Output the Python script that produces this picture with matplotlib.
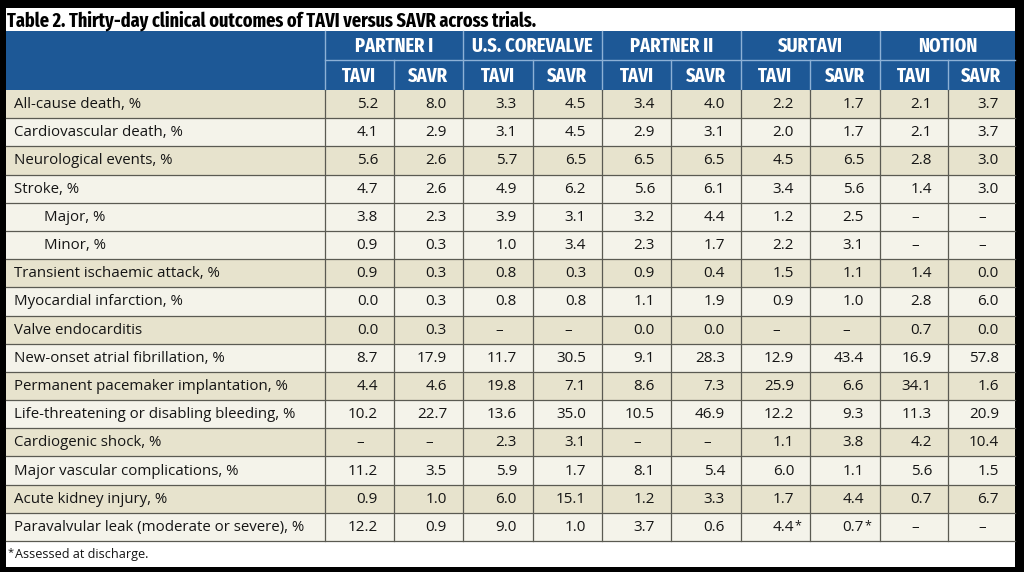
import matplotlib
matplotlib.use("Agg")
import matplotlib.pyplot as plt
from matplotlib.patches import Rectangle
from matplotlib import font_manager
from matplotlib.font_manager import FontProperties

# ---------------- data ----------------
title = "Table 2. Thirty-day clinical outcomes of TAVI versus SAVR across trials."
trials = ["PARTNER I", "U.S. COREVALVE", "PARTNER II", "SURTAVI", "NOTION"]
arms = ["TAVI", "SAVR"]
outcomes = [
    "All-cause death, %",
    "Cardiovascular death, %",
    "Neurological events, %",
    "Stroke, %",
    "Major, %",
    "Minor, %",
    "Transient ischaemic attack, %",
    "Myocardial infarction, %",
    "Valve endocarditis",
    "New-onset atrial fibrillation, %",
    "Permanent pacemaker implantation, %",
    "Life-threatening or disabling bleeding, %",
    "Cardiogenic shock, %",
    "Major vascular complications, %",
    "Acute kidney injury, %",
    "Paravalvular leak (moderate or severe), %",
]
indented = [False, False, False, False, True, True] + [False] * 10
# shading group: 1 = tan, 0 = light
shade = [1, 0, 1, 0, 0, 0, 1, 0, 1, 0, 1, 0, 1, 0, 1, 0]

N = None
partner1_tavi = [5.2, 4.1, 5.6, 4.7, 3.8, 0.9, 0.9, 0.0, 0.0, 8.7, 4.4, 10.2, N, 11.2, 0.9, 12.2]
partner1_savr = [8.0, 2.9, 2.6, 2.6, 2.3, 0.3, 0.3, 0.3, 0.3, 17.9, 4.6, 22.7, N, 3.5, 1.0, 0.9]
corevalve_tavi = [3.3, 3.1, 5.7, 4.9, 3.9, 1.0, 0.8, 0.8, N, 11.7, 19.8, 13.6, 2.3, 5.9, 6.0, 9.0]
corevalve_savr = [4.5, 4.5, 6.5, 6.2, 3.1, 3.4, 0.3, 0.8, N, 30.5, 7.1, 35.0, 3.1, 1.7, 15.1, 1.0]
partner2_tavi = [3.4, 2.9, 6.5, 5.6, 3.2, 2.3, 0.9, 1.1, 0.0, 9.1, 8.6, 10.5, N, 8.1, 1.2, 3.7]
partner2_savr = [4.0, 3.1, 6.5, 6.1, 4.4, 1.7, 0.4, 1.9, 0.0, 28.3, 7.3, 46.9, N, 5.4, 3.3, 0.6]
surtavi_tavi = [2.2, 2.0, 4.5, 3.4, 1.2, 2.2, 1.5, 0.9, N, 12.9, 25.9, 12.2, 1.1, 6.0, 1.7, 4.4]
surtavi_savr = [1.7, 1.7, 6.5, 5.6, 2.5, 3.1, 1.1, 1.0, N, 43.4, 6.6, 9.3, 3.8, 1.1, 4.4, 0.7]
notion_tavi = [2.1, 2.1, 2.8, 1.4, N, N, 1.4, 2.8, 0.7, 16.9, 34.1, 11.3, 4.2, 5.6, 0.7, N]
notion_savr = [3.7, 3.7, 3.0, 3.0, N, N, 0.0, 6.0, 0.0, 57.8, 1.6, 20.9, 10.4, 1.5, 6.7, N]
value_columns = [partner1_tavi, partner1_savr, corevalve_tavi, corevalve_savr,
                 partner2_tavi, partner2_savr, surtavi_tavi, surtavi_savr,
                 notion_tavi, notion_savr]
# (column index, row index) cells flagged "assessed at discharge"
starred = [(6, 15), (7, 15)]
footnote = "Assessed at discharge."

# ---------------- fonts ----------------
def cond_level(f):
    nm = f.name.lower().replace(" ", "").replace("-", "")
    st = str(f.stretch).lower().replace("-", "")
    fn = f.fname.lower().replace("-", "").replace("_", "")
    txt = nm + " " + st + " " + fn
    if "ultracondensed" in txt:
        return 4
    if "extracondensed" in txt:
        return 3
    if "semicondensed" in txt:
        return 1
    if "condensed" in txt or "narrow" in txt:
        return 2
    if isinstance(f.stretch, int) and f.stretch < 500:
        return 2
    return 0

def find_condensed_bold():
    pref = {3: 40, 2: 30, 4: 20, 1: 10}
    best = None
    for f in font_manager.fontManager.ttflist:
        lvl = cond_level(f)
        if lvl == 0:
            continue
        if "italic" in str(f.style).lower() or "oblique" in str(f.style).lower():
            continue
        w = f.weight if isinstance(f.weight, int) else (700 if "bold" in str(f.weight) else 400)
        if "italic" in f.fname.lower():
            continue
        score = pref[lvl] - abs(w - 700) / 10.0
        if best is None or score > best[0]:
            best = (score, f.fname)
    return best[1] if best else None

cond_file = find_condensed_bold()
if cond_file:
    HFONT = FontProperties(fname=cond_file)
else:
    HFONT = FontProperties(family="DejaVu Sans", weight="bold")

avail = {f.name for f in font_manager.fontManager.ttflist}
body_font = "Open Sans" if "Open Sans" in avail else "DejaVu Sans"

# ---------------- styling / layout ----------------
BLUE = "#1d5896"
TAN = "#e7e3cd"
LIGHT = "#f4f3ea"
HDR_LINE = "#8db1d6"
GRID = "#5a5a52"
TXT = "#151515"

W, H = 1024, 572
fig = plt.figure(figsize=(W / 100, H / 100), dpi=100, facecolor="black")
ax = fig.add_axes([0, 0, 1, 1])
ax.set_xlim(0, W)
ax.set_ylim(H, 0)
ax.axis("off")
ax.set_facecolor("black")
renderer = fig.canvas.get_renderer()

x_left, x_right = 6, 1015
label_edge = 325
col_edges = [325, 394, 463, 533, 602, 671, 741, 810, 880, 948, 1015]
y_title_top, y_title_bot = 8, 31
y_h1_bot = 60
y_h2_bot = 90
row_h = (541 - y_h2_bot) / len(outcomes)
y_data_bot = y_h2_bot + row_h * len(outcomes)
y_foot_bot = 567


def fit_size(text, target_px, base=14.0):
    fp = HFONT.copy()
    fp.set_size(base)
    t = ax.text(0, 0, text, fontproperties=fp)
    wpx = t.get_window_extent(renderer).width
    t.remove()
    return base * target_px / wpx


title_size = min(fit_size(title, 530), 14.5)
head_size = min(fit_size("U.S. COREVALVE", 124), 14.5)


def hfp(size):
    fp = HFONT.copy()
    fp.set_size(size)
    return fp

# title band
ax.add_patch(Rectangle((x_left, y_title_top), x_right - x_left, y_title_bot - y_title_top,
                       facecolor="white", edgecolor="none"))
ax.text(x_left + 1, (y_title_top + y_title_bot) / 2 + 1, title, fontproperties=hfp(title_size),
        color="black", va="center", ha="left")

# header band
ax.add_patch(Rectangle((x_left, y_title_bot), x_right - x_left, y_h2_bot - y_title_bot,
                       facecolor=BLUE, edgecolor="none"))
ax.plot([label_edge, x_right], [y_h1_bot, y_h1_bot], color=HDR_LINE, lw=1)
ax.plot([label_edge, label_edge], [y_title_bot, y_h2_bot], color=HDR_LINE, lw=1)
for g, name in enumerate(trials):
    x0, x1, x2 = col_edges[2 * g], col_edges[2 * g + 1], col_edges[2 * g + 2]
    if g > 0:
        ax.plot([x0, x0], [y_title_bot, y_h2_bot], color=HDR_LINE, lw=1)
    ax.plot([x1, x1], [y_h1_bot, y_h2_bot], color=HDR_LINE, lw=1)
    ax.text((x0 + x2) / 2, (y_title_bot + y_h1_bot) / 2 + 1, name, fontproperties=hfp(head_size),
            color="white", ha="center", va="center")
    for a, arm in enumerate(arms):
        xa, xb = col_edges[2 * g + a], col_edges[2 * g + a + 1]
        ax.text((xa + xb) / 2, (y_h1_bot + y_h2_bot) / 2 + 1, arm, fontproperties=hfp(head_size),
                color="white", ha="center", va="center")

# data rows
for r, label in enumerate(outcomes):
    y0 = y_h2_bot + r * row_h
    ax.add_patch(Rectangle((x_left, y0), x_right - x_left, row_h,
                           facecolor=TAN if shade[r] else LIGHT, edgecolor="none"))
    yc = y0 + row_h / 2 + 0.5
    ax.text(x_left + (38 if indented[r] else 8), yc, label, family=body_font,
            fontsize=10.8, color=TXT, ha="left", va="center")
    for c, col in enumerate(value_columns):
        xa, xb = col_edges[c], col_edges[c + 1]
        v = col[r]
        if v is None:
            ax.text((xa + xb) / 2 + 1, yc, "\u2013", family=body_font, fontsize=11,
                    color=TXT, ha="center", va="center")
        else:
            xr = xb - 16
            ax.text(xr, yc, f"{v:.1f}", family=body_font, fontsize=11,
                    color=TXT, ha="right", va="center")
            if (c, r) in starred:
                ax.text(xr + 0.5, yc - 2, "*", family=body_font, fontsize=9,
                        color=TXT, ha="left", va="center")

# horizontal grid lines
for r in range(1, len(outcomes) + 1):
    y = y_h2_bot + r * row_h
    ax.plot([x_left, x_right], [y, y], color=GRID, lw=0.9)
# vertical grid lines
for x in col_edges[:-1]:
    ax.plot([x, x], [y_h2_bot, y_data_bot], color=GRID, lw=0.9)

# footnote band
ax.add_patch(Rectangle((x_left, y_data_bot), x_right - x_left, y_foot_bot - y_data_bot,
                       facecolor="white", edgecolor="none"))
yf = (y_data_bot + y_foot_bot) / 2 + 0.5
ax.text(x_left + 2, yf - 2, "*", family=body_font, fontsize=8, color=TXT,
        ha="left", va="center")
ax.text(x_left + 9, yf, footnote, family=body_font, fontsize=9.1, color=TXT,
        ha="left", va="center")

fig.savefig("out.png", dpi=100, facecolor="black")
